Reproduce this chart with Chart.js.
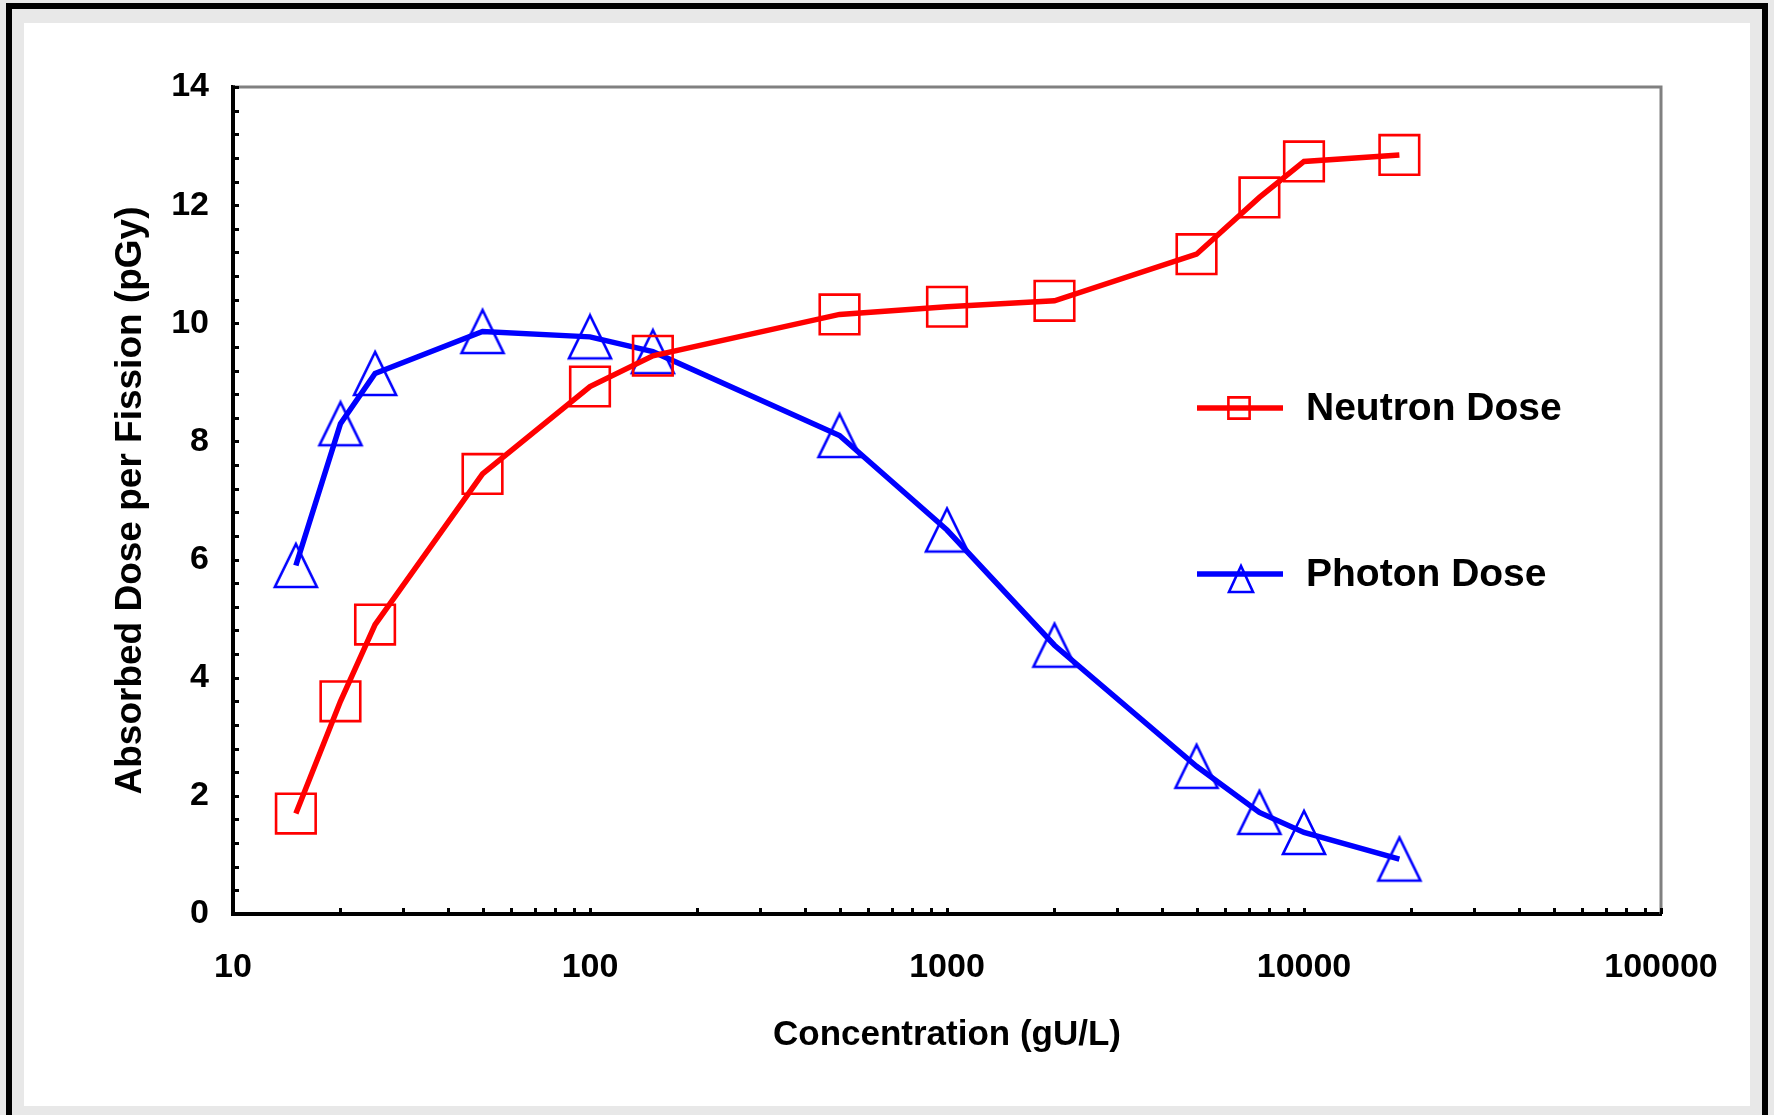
<!DOCTYPE html>
<html>
<head>
<meta charset="utf-8">
<script src="https://cdn.jsdelivr.net/npm/chart.js@4.4.0/dist/chart.umd.min.js"></script>
<style>
  body { margin: 0; background: #fff; }
</style>
</head>
<body>
<canvas id="graficoDose" width="1774" height="1115"></canvas>
<script>
// dados
const concentracao = [15, 20, 25, 50, 100, 150, 500, 1000, 2000, 5000, 7500, 10000, 18500];
const doseNeutron = [1.7, 3.6, 4.9, 7.45, 8.93, 9.45, 10.15, 10.28, 10.38, 11.17, 12.13, 12.74, 12.85];
const dosePhoton = [5.9, 8.3, 9.15, 9.86, 9.77, 9.52, 8.1, 6.5, 4.55, 2.5, 1.72, 1.38, 0.93];
const ticksX = [10, 100, 1000, 10000, 100000];
const ticksY = [0, 2, 4, 6, 8, 10, 12, 14];
const nomesSeries = ['Neutron Dose', 'Photon Dose'];
const tituloX = 'Concentration (gU/L)';
const tituloY = 'Absorbed Dose per Fission (pGy)';

const fonte = '"Liberation Sans", Arial, sans-serif';
Chart.defaults.font.family = fonte;
Chart.defaults.font.weight = 'bold';
Chart.defaults.color = '#000';

// triângulo do marcador (desenhado num canvas pequeno)
function criarTriangulo(larg, alt, cor, espessura) {
    const c = document.createElement('canvas');
    c.width = larg + 6;
    c.height = alt + 6;
    const g = c.getContext('2d');
    g.strokeStyle = cor;
    g.lineWidth = espessura;
    g.lineJoin = 'miter';
    g.beginPath();
    g.moveTo(c.width / 2, 3);
    g.lineTo(3, alt + 3);
    g.lineTo(larg + 3, alt + 3);
    g.closePath();
    g.stroke();
    return c;
}
const trianguloGrande = criarTriangulo(42, 43, '#0000ff', 2.6);
const trianguloLegenda = criarTriangulo(24, 26, '#0000ff', 2.6);

// moldura cinza / preta em volta
const moldura = {
    id: 'moldura',
    beforeDraw(chart) {
        const ctx = chart.ctx;
        ctx.save();
        ctx.fillStyle = '#e8e8e8';
        ctx.fillRect(0, 0, 1774, 1115);
        ctx.fillStyle = '#000';
        ctx.fillRect(6, 3, 1762, 1112);
        ctx.fillStyle = '#e8e8e8';
        ctx.fillRect(12, 9, 1750, 1106);
        ctx.fillStyle = '#fff';
        ctx.fillRect(24, 23, 1726, 1083);
        ctx.restore();
    }
};

// marcas para dentro + bordas cinza de cima e da direita
const passoMenorY = 0.4;
const marcas = {
    id: 'marcas',
    beforeDatasetsDraw(chart) {
        const { ctx, chartArea: a, scales: { x, y } } = chart;
        ctx.save();
        ctx.strokeStyle = '#808080';
        ctx.lineWidth = 3;
        ctx.beginPath();
        ctx.moveTo(a.left, a.top);
        ctx.lineTo(a.right, a.top);
        ctx.lineTo(a.right, a.bottom);
        ctx.stroke();

        ctx.strokeStyle = '#000';
        ctx.lineWidth = 3;
        ctx.beginPath();
        for (let v = 0; v <= 14.001; v += passoMenorY) {
            const py = Math.round(y.getPixelForValue(v)) + 0.5;
            ctx.moveTo(a.left, py);
            ctx.lineTo(a.left + 6, py);
        }
        for (let i = 0; i < ticksX.length - 1; i++) {
            for (let k = 1; k <= 10; k++) {
                const px = Math.round(x.getPixelForValue(ticksX[i] * k)) + 0.5;
                ctx.moveTo(px, a.bottom);
                ctx.lineTo(px, a.bottom - 6);
            }
        }
        ctx.stroke();
        ctx.restore();
    }
};

// legenda dentro da área do gráfico
const legendaInterna = {
    id: 'legendaInterna',
    afterDraw(chart) {
        const ctx = chart.ctx;
        const posY = [408, 574];
        ctx.save();
        chart.data.datasets.forEach((ds, i) => {
            const yy = posY[i];
            ctx.strokeStyle = ds.borderColor;
            ctx.lineWidth = 5.5;
            ctx.beginPath();
            ctx.moveTo(1197, yy);
            ctx.lineTo(1283, yy);
            ctx.stroke();
            ctx.lineWidth = 2.6;
            ctx.fillStyle = 'rgba(0,0,0,0)';
            if (i === 0) {
                Chart.helpers.drawPoint(ctx, { pointStyle: 'rect', radius: 15, rotation: 0, borderWidth: 2.6 }, 1239, yy);
            } else {
                ctx.drawImage(trianguloLegenda, 1241 - trianguloLegenda.width / 2, yy + 5 - trianguloLegenda.height / 2);
            }
            ctx.fillStyle = '#000';
            ctx.font = 'bold 39px ' + fonte;
            ctx.textAlign = 'left';
            ctx.textBaseline = 'middle';
            ctx.fillText(ds.label, 1306, yy + 1);
        });
        ctx.restore();
    }
};

function montarPontos(valores) {
    return concentracao.map((c, i) => ({ x: c, y: valores[i] }));
}

new Chart(document.getElementById('graficoDose'), {
    type: 'line',
    data: {
        datasets: [{
            label: nomesSeries[0],
            data: montarPontos(doseNeutron),
            borderColor: '#ff0000',
            borderWidth: 5.5,
            pointStyle: 'rect',
            pointRadius: 28,
            pointBorderWidth: 2.6,
            pointBorderColor: '#ff0000',
            pointBackgroundColor: 'rgba(0,0,0,0)',
            tension: 0
        }, {
            label: nomesSeries[1],
            data: montarPontos(dosePhoton),
            borderColor: '#0000ff',
            borderWidth: 5.5,
            pointStyle: trianguloGrande,
            pointRadius: 24,
            tension: 0
        }]
    },
    options: {
        responsive: false,
        animation: false,
        devicePixelRatio: 1,
        layout: { padding: { top: 87, right: 113, bottom: 0, left: 0 } },
        plugins: {
            legend: { display: false },
            tooltip: { enabled: false }
        },
        scales: {
            x: {
                type: 'logarithmic',
                min: 10,
                max: 100000,
                afterBuildTicks: (s) => { s.ticks = ticksX.map(v => ({ value: v })); },
                afterFit: (s) => { s.height = 201; },
                ticks: {
                    autoSkip: false,
                    maxRotation: 0,
                    padding: 33,
                    font: { size: 34, weight: 'bold' },
                    callback: (v) => String(v)
                },
                grid: { display: true, drawOnChartArea: false, drawTicks: false },
                border: { display: true, color: '#000', width: 4 },
                title: {
                    display: true,
                    text: tituloX,
                    font: { size: 35, weight: 'bold' },
                    padding: { top: 0, bottom: 59 }
                }
            },
            y: {
                min: 0,
                max: 14,
                afterBuildTicks: (s) => { s.ticks = ticksY.map(v => ({ value: v })); },
                afterFit: (s) => { s.width = 233; },
                ticks: {
                    padding: 24,
                    font: { size: 34, weight: 'bold' }
                },
                grid: { display: true, drawOnChartArea: false, drawTicks: false },
                border: { display: true, color: '#000', width: 4 },
                title: {
                    display: true,
                    text: tituloY,
                    font: { size: 37, weight: 'bold' },
                    padding: { top: 109, bottom: 0 }
                }
            }
        }
    },
    plugins: [moldura, marcas, legendaInterna]
});
</script>
</body>
</html>
